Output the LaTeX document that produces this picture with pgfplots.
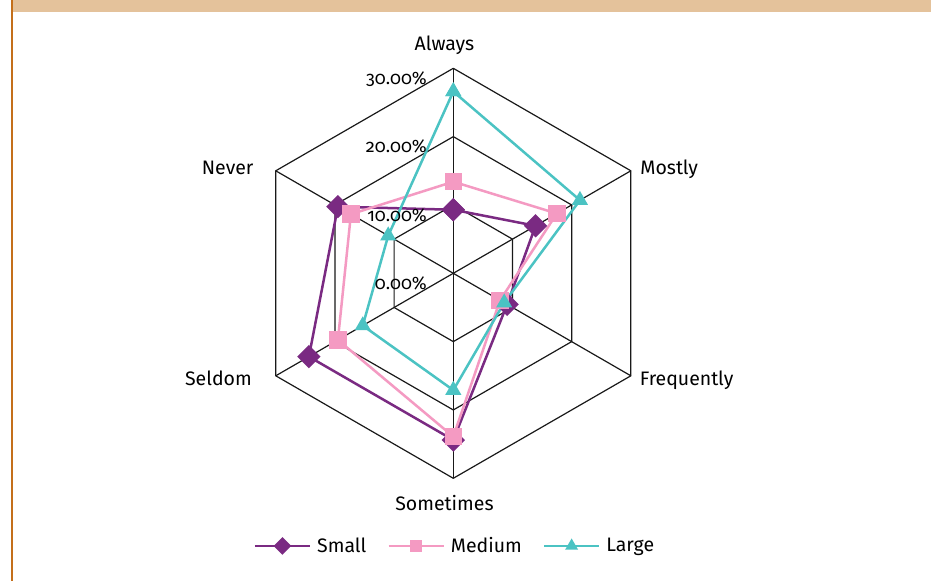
\documentclass[border=0pt]{standalone}
\usepackage{pgfplots}
\pgfplotsset{compat=1.18}
\usepgfplotslibrary{polar}
\usepackage{fontspec}
\setmainfont{Fira Sans}
\newfontfamily\tickfont{Fira Sans}[Numbers=OldStyle]
\definecolor{cSmall}{HTML}{7A2A82}
\definecolor{cMedium}{HTML}{F49AC2}
\definecolor{cLarge}{HTML}{4BC3C3}
\definecolor{band}{HTML}{E4C29B}
\definecolor{border}{HTML}{C46F1A}
\newcommand{\catfont}{\fontsize{19.5bp}{23bp}\selectfont}
\newcommand{\tfont}{\tickfont\fontsize{18bp}{21bp}\selectfont}
\begin{document}
\begin{tikzpicture}
\path[use as bounding box] (0,0) rectangle (931bp,581bp);
\fill[white] (0,0) rectangle (931bp,581bp);
\fill[band] (12bp,569bp) rectangle (931bp,581bp);
\fill[border] (11bp,0) rectangle (13bp,581bp);
\begin{polaraxis}[
  at={(453.3bp,307.7bp)}, anchor=center,
  width=410bp, height=410bp, scale only axis,
  ymin=0, ymax=30, hide axis, clip=false,
  gridl/.style={black!90, line width=1.2bp, no marks, forget plot},
  legend columns=3,
  legend style={at={(0.504,-0.165)}, anchor=center, draw=none, fill=none,
    font=\catfont, inner sep=0pt,
    /tikz/every odd column/.append style={column sep=4bp},
    /tikz/every even column/.append style={column sep=19bp}},
  legend image code/.code={\draw[mark repeat=2,mark phase=2,#1,mark size=5bp]
     plot coordinates {(0bp,0bp) (27.5bp,0bp) (55bp,0bp)};},
]
% hexagonal grid
\addplot[gridl] coordinates {(90,10) (30,10) (-30,10) (-90,10) (-150,10) (-210,10) (90,10)};
\addplot[gridl] coordinates {(90,20) (30,20) (-30,20) (-90,20) (-150,20) (-210,20) (90,20)};
\addplot[gridl] coordinates {(90,30) (30,30) (-30,30) (-90,30) (-150,30) (-210,30) (90,30)};
\addplot[gridl] coordinates {(90,0) (90,30)};
\addplot[gridl] coordinates {(30,0) (30,30)};
\addplot[gridl] coordinates {(-30,0) (-30,30)};
\addplot[gridl] coordinates {(-90,0) (-90,30)};
\addplot[gridl] coordinates {(-150,0) (-150,30)};
\addplot[gridl] coordinates {(-210,0) (-210,30)};
% data: Always, Mostly, Frequently, Sometimes, Seldom, Never
\addplot[cSmall, line width=2.5bp, mark=square*, mark size=7bp, mark options={rotate=45, solid}]
  coordinates {(90,9.3) (30,13.9) (-30,9.1) (-90,24.4) (-150,24.4) (-210,19.5) (90,9.3)};
\addlegendentry{Small}
\addplot[cMedium, line width=2.5bp, mark=square*, mark size=7.5bp, mark options={solid}]
  coordinates {(90,13.4) (30,17.5) (-30,7.9) (-90,23.9) (-150,19.5) (-210,17.3) (90,13.4)};
\addlegendentry{Medium}
\addplot[cLarge, line width=2.5bp, mark=triangle*, mark size=6.8bp, mark options={solid}]
  coordinates {(90,26.6) (30,21.4) (-30,8.6) (-90,17.1) (-150,15.3) (-210,11.0) (90,26.6)};
\addlegendentry{Large}
% category labels
\node[anchor=base, font=\catfont, xshift=-8.8bp, yshift=18.3bp] at (axis cs:90,30) {Always};
\node[anchor=base west, font=\catfont, xshift=6bp, yshift=-4.2bp] at (axis cs:30,30) {Mostly};
\node[anchor=base west, font=\catfont, xshift=5.5bp, yshift=-10.2bp] at (axis cs:-30,30) {Frequently};
\node[anchor=base, font=\catfont, xshift=-8.8bp, yshift=-32.7bp] at (axis cs:-90,30) {Sometimes};
\node[anchor=base east, font=\catfont, xshift=-20.5bp, yshift=-10.2bp] at (axis cs:-150,30) {Seldom};
\node[anchor=base east, font=\catfont, xshift=-18.8bp, yshift=-4.2bp] at (axis cs:-210,30) {Never};
% radial tick labels
\node[anchor=base east, font=\tfont, inner sep=0pt, xshift=-26.3bp, yshift=-16.2bp] at (axis cs:90,0) {0.00\%};
\node[anchor=base east, font=\tfont, inner sep=0pt, xshift=-26.3bp, yshift=-16.2bp] at (axis cs:90,10) {10.00\%};
\node[anchor=base east, font=\tfont, inner sep=0pt, xshift=-26.3bp, yshift=-16.2bp] at (axis cs:90,20) {20.00\%};
\node[anchor=base east, font=\tfont, inner sep=0pt, xshift=-26.3bp, yshift=-16.2bp] at (axis cs:90,30) {30.00\%};
\end{polaraxis}
\end{tikzpicture}
\end{document}
